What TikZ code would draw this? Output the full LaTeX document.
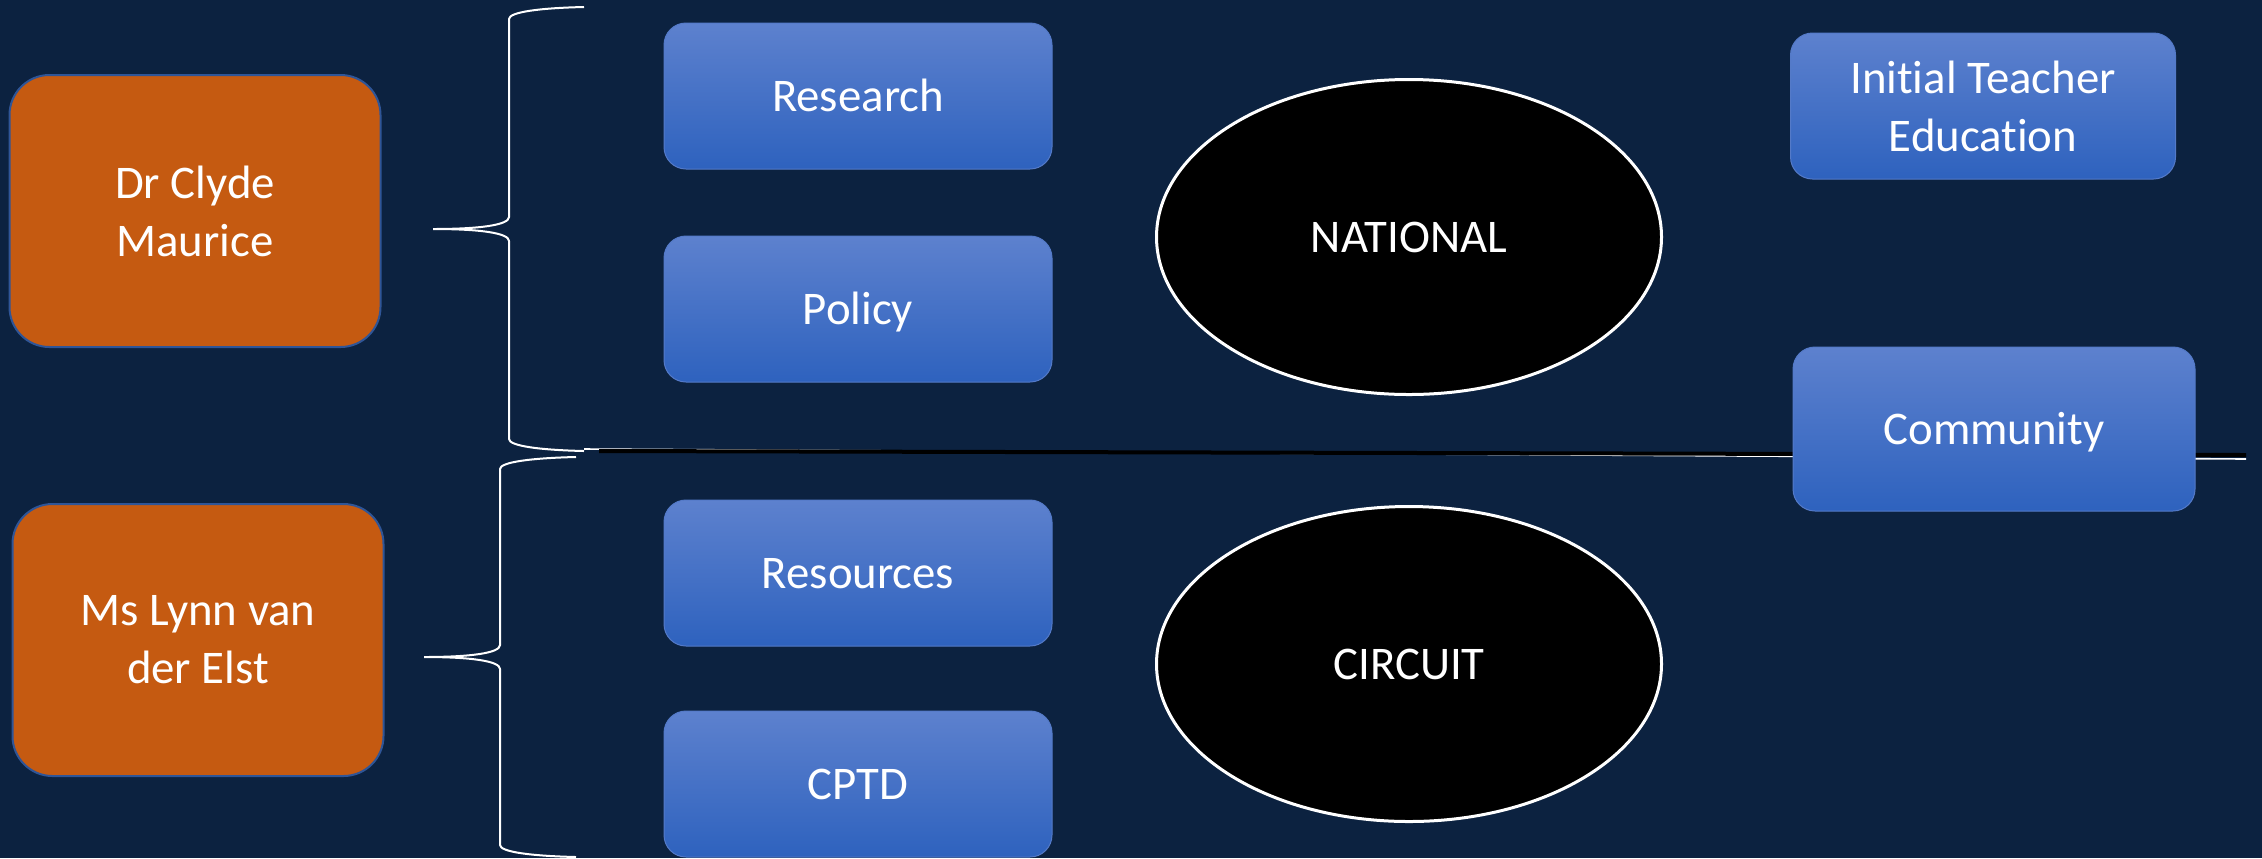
\documentclass[tikz,border=0pt]{standalone}
\usepackage{fontspec}
\setmainfont{Carlito}[Ligatures=NoCommon]
\usetikzlibrary{shapes.geometric}
\definecolor{navy}{RGB}{12,34,64}
\definecolor{rust}{RGB}{197,90,17}
\definecolor{rustedge}{RGB}{47,85,151}
\definecolor{bluetop}{RGB}{93,129,206}
\definecolor{bluebot}{RGB}{46,98,190}
\definecolor{blueedge}{RGB}{84,122,200}

\begin{document}
\begin{tikzpicture}[x=0.5pt, y=-0.5pt,
  every node/.style={text=white, font=\fontsize{23.4}{29}\selectfont, align=center, inner sep=0pt},
  person/.style={draw=rustedge, line width=1pt, fill=rust, rounded corners=20pt,
    minimum width=185.5pt, minimum height=136pt},
  topic/.style={draw=blueedge, line width=0.5pt, top color=bluetop, bottom color=bluebot,
    rounded corners=11pt, minimum width=194pt, minimum height=73pt,
    text height=15pt, text depth=0pt},
  level/.style={ellipse, draw=white, line width=1.5pt, fill=black,
    minimum width=252.5pt, minimum height=157.5pt},
  brace/.style={draw=white, line width=1pt}]

  % Background
  \fill[navy] (0,0) rectangle (2262,858);
  \useasboundingbox (0,0) rectangle (2262,858);

  % Dividing line
  \coordinate (lineA) at (584,449);
  \coordinate (lineB) at (2246,459);
  \coordinate (lineC) at (599,451);
  \coordinate (lineD) at (2246,455);
  \draw[white, line width=0.8pt] (lineA) -- (lineB);
  \draw[black, line width=2pt] (lineC) -- (lineD);

  % People
  \node[person] (clyde) at (195,211) {Dr Clyde\\Maurice};
  \node[person] (lynn) at (198,640) {Ms Lynn van\\der Elst};

  % Braces
  \draw[brace] (584,7) .. controls (540,8) and (509,12) .. (509,19)
    -- (509,217) .. controls (509,225) and (480,229) .. (433,229)
    .. controls (480,229) and (509,233) .. (509,241)
    -- (509,439) .. controls (509,446) and (540,450) .. (584,451);
  \draw[brace] (576,457) .. controls (532,458) and (500,462) .. (500,469)
    -- (500,645) .. controls (500,653) and (471,657) .. (424,657)
    .. controls (471,657) and (500,661) .. (500,669)
    -- (500,845) .. controls (500,852) and (532,856) .. (576,857);

  % Topics
  \node[topic] (research) at (858,96) {Research};
  \node[topic] (policy) at (858,309) {Policy};
  \node[topic] (resources) at (858,573) {Resources};
  \node[topic] (cptd) at (858,784) {CPTD};

  % Levels
  \node[level] (national) at (1409,237) {NATIONAL};
  \node[level] (circuit) at (1409,664) {CIRCUIT};

  % Right column
  \node[topic, minimum width=192.5pt, text height=, text depth=] (ite) at (1983,106) {Initial Teacher\\Education};
  \node[topic, minimum width=201pt, minimum height=82pt] (community) at (1994,429) {Community};
\end{tikzpicture}
\end{document}
